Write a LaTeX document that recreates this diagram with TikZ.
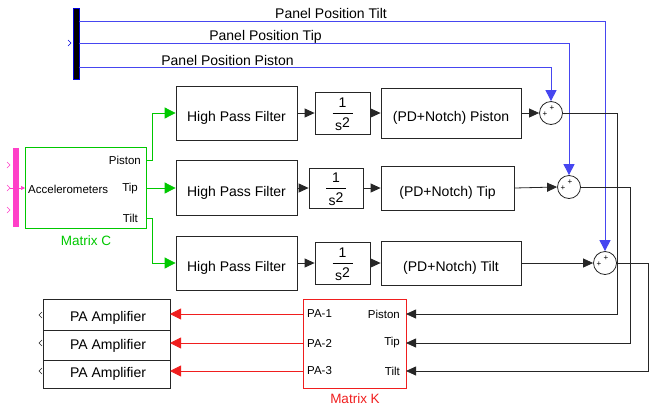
\documentclass[tikz,border=0pt]{standalone}
\usepackage{fontspec}
\setmainfont{Liberation Sans}
\usetikzlibrary{arrows.meta}
\definecolor{sblue}{RGB}{70,70,240}
\definecolor{sblueA}{RGB}{0,0,225}
\definecolor{sgreen}{RGB}{0,200,0}
\definecolor{spink}{RGB}{255,64,200}
\definecolor{sred}{RGB}{240,30,30}
\begin{document}
\begin{tikzpicture}[x=1pt,y=-1pt,
  font=\fontsize{14}{16}\selectfont,
  blk/.style={draw=black!85,line width=0.8pt,inner sep=0pt,align=center,text height=16pt,text depth=0pt},
  sumnode/.style={draw=black!85,line width=0.8pt,circle,minimum size=23pt,inner sep=0pt},
  small/.style={font=\fontsize{11.5}{13}\selectfont,inner sep=0pt},
  plus/.style={font=\fontsize{8}{9}\selectfont,inner sep=0pt},
  tip/.style={-{Triangle[length=10pt,width=9pt]}},
  wire/.style={line width=0.8pt,draw=black!85,tip},
  bwire/.style={line width=1pt,sblue,-{Triangle[length=11pt,width=11pt]}},
  gwire/.style={line width=0.8pt,draw=sgreen,-{Triangle[length=11pt,width=11pt]}},
  rwire/.style={line width=0.8pt,draw=sred,-{Triangle[length=11pt,width=11pt]}}
]
\useasboundingbox (0,0) rectangle (652,408);

% ---- bus bar (panel positions)
\fill[black] (73,8) rectangle (79,79);
\draw[sblueA,line width=0.8pt] (73,8) rectangle (79,79);
\draw[sblueA,line width=0.6pt] (68,40) -- (71,43) -- (68,46);
\coordinate (bTilt) at (79,21);
\coordinate (bTip) at (79,43);
\coordinate (bPis) at (79,67);

% ---- Matrix C
\fill[spink] (13,148) rectangle (19,227);
\node[draw=sgreen,line width=0.8pt,minimum width=121pt,minimum height=81pt,inner sep=0pt] (matC) at (85.5,187.5) {};
\node[small,anchor=west] (accl) at (28,189) {Accelerometers};
\node[small,anchor=east] (cPl) at (141,160) {Piston};
\node[small,anchor=east] (cTl) at (138,189) {Tip};
\node[small,anchor=east] (cLl) at (138,218) {Tilt};
\node[text=sgreen,font=\fontsize{13.5}{15}\selectfont,inner sep=0pt] (matCl) at (86,241) {Matrix C};
\draw[spink,line width=0.6pt] (7,162) -- (10,165) -- (7,168);
\draw[spink,line width=0.6pt] (7,207) -- (10,210) -- (7,213);
\draw[spink,line width=0.6pt] (7,185) -- (10,188) -- (7,191);
\draw[spink,line width=0.6pt,-{Triangle[length=4pt,width=4pt]}] (10,188) -- (25,188);
\coordinate (cP) at (146,160);
\coordinate (cT) at (146,188);
\coordinate (cL) at (146,218);

% ---- High pass filters
\node[blk,minimum width=121pt,minimum height=54pt] (hpf1) at (236.5,113) {High Pass Filter};
\node[blk,minimum width=121pt,minimum height=55pt] (hpf2) at (236.5,188) {High Pass Filter};
\node[blk,minimum width=121pt,minimum height=54pt] (hpf3) at (236.5,263) {High Pass Filter};

% ---- integrators
\node[blk,minimum width=55pt,minimum height=42pt] (int1) at (342.5,113) {};
\node[blk,minimum width=54pt,minimum height=40pt] (int2) at (336,188) {};
\node[blk,minimum width=55pt,minimum height=42pt] (int3) at (342.5,263) {};
\foreach \n in {1,2,3}{
  \node[inner sep=0pt] (int\n n) at ([yshift=10pt]int\n.center) {1};
  \node[inner sep=0pt] (int\n d) at ([yshift=-11pt]int\n.center) {s\raisebox{3pt}{2}};
  \draw[line width=0.6pt] ([xshift=-10pt]int\n.center) -- ([xshift=10pt]int\n.center);
}

% ---- controllers
\node[blk,minimum width=140pt,minimum height=50pt] (pd1) at (451,113) {(PD+Notch) Piston};
\node[blk,minimum width=133pt,minimum height=44pt] (pd2) at (447.5,188) {(PD+Notch) Tip};
\node[blk,minimum width=140pt,minimum height=44pt] (pd3) at (451,263) {(PD+Notch) Tilt};

% ---- sums
\node[sumnode] (s1) at (551,113) {};
\node[sumnode] (s2) at (569,187) {};
\node[sumnode] (s3) at (605,263) {};
\foreach \s in {s1,s2,s3}{
  \node[plus] (\s t) at ([xshift=1pt,yshift=5pt]\s.center) {+};
  \node[plus] (\s l) at ([xshift=-6pt,yshift=-1pt]\s.center) {+};
}

% ---- Matrix K
\node[draw=sred,line width=0.8pt,minimum width=103pt,minimum height=89pt,inner sep=0pt] (matK) at (354.5,343.5) {};
\node[small,anchor=west] (k1) at (307,314) {PA-1};
\node[small,anchor=west] (k2) at (307,343) {PA-2};
\node[small,anchor=west] (k3) at (307,371) {PA-3};
\node[small,anchor=east] (kPl) at (400,314) {Piston};
\node[small,anchor=east] (kTl) at (400,343) {Tip};
\node[small,anchor=east] (kLl) at (400,371) {Tilt};
\node[text=sred,font=\fontsize{13.5}{15}\selectfont,inner sep=0pt] (matKl) at (355,399) {Matrix K};
\coordinate (kP) at (406,314);
\coordinate (kT) at (406,343);
\coordinate (kL) at (406,371);
\coordinate (kO1) at (303,314);
\coordinate (kO2) at (303,343);
\coordinate (kO3) at (303,371);

% ---- PA amplifiers
\node[blk,minimum width=127pt,minimum height=31pt] (pa1) at (106.5,314.5) {};
\node[blk,minimum width=127pt,minimum height=30pt] (pa2) at (106.5,345) {};
\node[blk,minimum width=127pt,minimum height=28pt] (pa3) at (106.5,374) {};
\node[inner sep=0pt] (pa1l) at (108,318) {PA Amplifier};
\node[inner sep=0pt] (pa2l) at (108,346) {PA Amplifier};
\node[inner sep=0pt] (pa3l) at (108,374) {PA Amplifier};
\foreach \y in {315,343,371}{
  \draw[black!85,line width=0.6pt] (42,\y-3) -- (39,\y) -- (42,\y+3);
}
\coordinate (a1) at (170,314);
\coordinate (a2) at (170,343);
\coordinate (a3) at (170,371);

% ---- blue connectors
\draw[bwire] (bTilt) -- (605,21) -- (s3.north);
\draw[bwire] (bTip) -- (569,43) -- (s2.north);
\draw[bwire] (bPis) -- (551,67) -- (s1.north);
\node[inner sep=0pt] (lTilt) at (331,13.5) {Panel Position Tilt};
\node[inner sep=0pt] (lTip) at (265.5,36.5) {Panel Position Tip};
\node[inner sep=0pt] (lPis) at (227.5,60.5) {Panel Position Piston};

% ---- green connectors
\draw[gwire] (cP) -- (152,160) |- (hpf1.west);
\draw[gwire] (cT) -- (hpf2.west);
\draw[gwire] (cL) -- (152,218) |- (hpf3.west);

% ---- black forward path
\draw[wire] (hpf1.east) -- (int1.west);
\draw[wire] (hpf2.east) -- (int2.west);
\draw[wire] (hpf3.east) -- (int3.west);
\draw[wire] (int1.east) -- (pd1.west);
\draw[wire] (int2.east) -- (pd2.west);
\draw[wire] (int3.east) -- (pd3.west);
\draw[wire] (pd1.east) -- (s1.west);
\draw[wire] (pd2.east) -- (s2.west);
\draw[wire] (pd3.east) -- (s3.west);

% ---- sums to Matrix K
\draw[wire] (s1.east) -- (617,113) |- (kP);
\draw[wire] (s2.east) -- (630,187) |- (kT);
\draw[wire] (s3.east) -- (648,263) |- (kL);

% ---- red connectors
\draw[rwire] (kO1) -- (a1);
\draw[rwire] (kO2) -- (a2);
\draw[rwire] (kO3) -- (a3);
\end{tikzpicture}
\end{document}
